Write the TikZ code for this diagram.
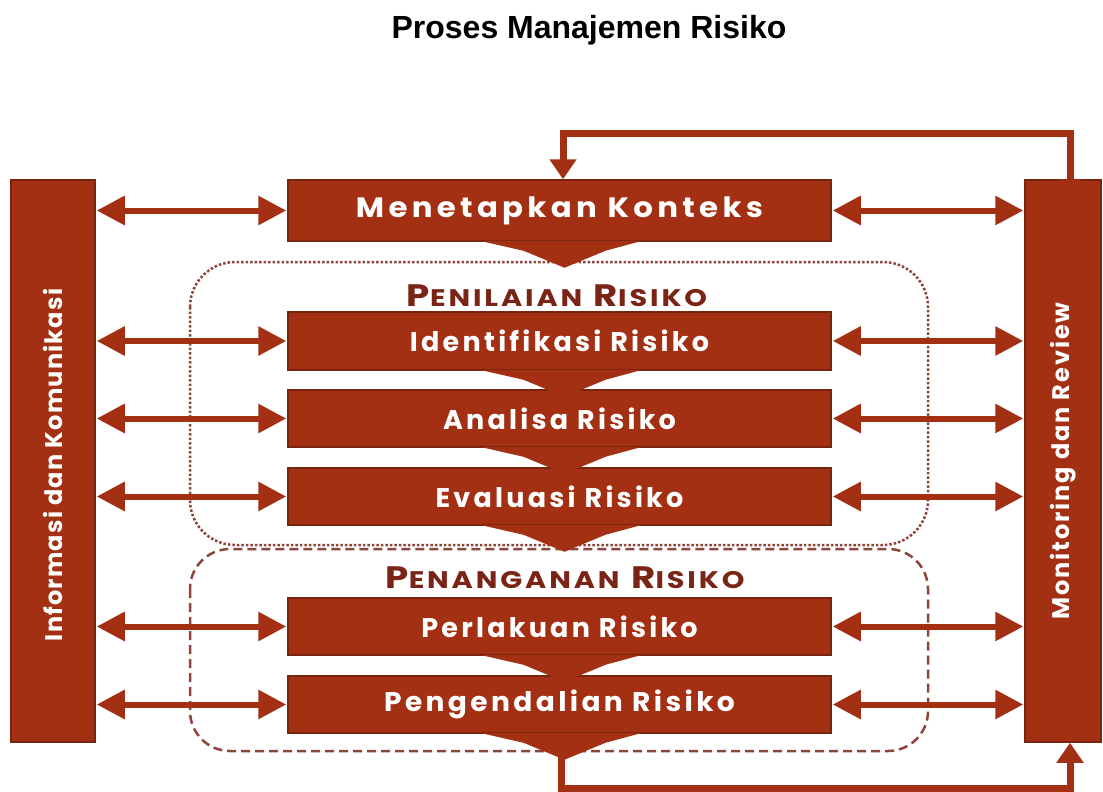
\documentclass[tikz,border=0pt]{standalone}
\usepackage{fontspec}
\usepackage{graphicx}
\setmainfont{Liberation Sans}
\newfontfamily\gothic[LetterSpace=12]{Poppins}
\newfontfamily\gothicw[LetterSpace=14]{Poppins}
\newfontfamily\gothicv[LetterSpace=8]{Poppins}
\newfontfamily\gothicvl[LetterSpace=5]{Poppins}
\newfontfamily\gothicl[LetterSpace=10]{Poppins}
\usetikzlibrary{arrows.meta,calc}
\definecolor{rust}{RGB}{163,48,18}
\definecolor{rustdark}{RGB}{120,36,14}
\definecolor{labelred}{RGB}{122,36,22}
\tikzset{
  barbox/.style={draw=rustdark,fill=rust,line width=1.5pt,inner sep=0pt},
  stepbox/.style={draw=rustdark,fill=rust,line width=1.5pt,minimum width=543pt,inner sep=0pt,
     text=white,font=\gothic\bfseries\fontsize{27}{27}\selectfont},
  bartext/.style={rotate=90,text=white,font=\gothicv\bfseries\fontsize{24}{24}\selectfont},
  dblarrow/.style={draw=rust,line width=6pt,{Triangle[length=28pt,width=28pt]}-{Triangle[length=28pt,width=28pt]},shorten <=1pt,shorten >=1pt},
  feed/.style={draw=rust,line width=7pt},
  grouplabel/.style={text=labelred,font=\gothicl\bfseries\fontsize{31}{31}\selectfont}
}
\newcommand{\smc}[1]{{\fontsize{24}{24}\selectfont #1}}
\begin{document}
\begin{tikzpicture}[x=1pt,y=-1pt]
\useasboundingbox (0,0) rectangle (1103,792);
\fill[white] (0,0) rectangle (1103,792);
\node[font=\bfseries\fontsize{32}{32}\selectfont] (title) at (589,30) {Proses Manajemen Risiko};

% group frames
\draw[labelred!85,line width=2.5pt,dotted,rounded corners=45pt] (190,262) rectangle (928,545);
\draw[labelred!85,line width=2.5pt,dashed,dash pattern=on 9pt off 5pt,rounded corners=40pt] (190,549) rectangle (928,751);

% side bars
\node[barbox,minimum width=84pt,minimum height=562pt] (lbar) at (53,461) {};
\node[bartext,font=\gothicvl\bfseries\fontsize{24}{24}\selectfont] (ltext) at ($(lbar.center)+(0,4)$) {Informasi dan Komunikasi};
\node[barbox,minimum width=76pt,minimum height=562pt] (rbar) at (1063,461) {};
\node[bartext] (rtext) at (rbar.center) {Monitoring dan Review};

% feedback loop corners
\coordinate (topR) at (1070,133);
\coordinate (topL) at (563,133);
\coordinate (botL) at (561,788);
\coordinate (botR) at (1070,788);

% step boxes
\node[stepbox,minimum height=61pt,font=\gothicw\bfseries\fontsize{28}{28}\selectfont] (ctx) at (559.5,210.5) {\scalebox{1.1}[1]{Menetapkan Konteks}};
\node[stepbox,minimum height=58pt] (idf) at (559.5,341) {Identifikasi Risiko};
\node[stepbox,minimum height=57pt] (ana) at (559.5,418.5) {Analisa Risiko};
\node[stepbox,minimum height=57pt] (eva) at (559.5,496.5) {Evaluasi Risiko};
\node[stepbox,minimum height=57pt] (per) at (559.5,626.5) {Perlakuan Risiko};
\node[stepbox,minimum height=57pt] (pen) at (559.5,704.5) {\scalebox{1.04}[1]{Pengendalian Risiko}};

% chevrons
\foreach \b in {ctx,idf,ana,eva,per,pen}{
  \fill[rust] ($(\b.south)+(-80,-1)$) -- ($(\b.south)+(83,-1)$) -- ($(\b.south)+(46,9)$) -- ($(\b.south)+(5,26)$) -- ($(\b.south)+(-36,9)$) -- cycle;
}

% feedback arrows
\draw[feed,-{Triangle[length=20pt,width=26pt]}] (rbar.north -| topR) -- (topR) -- (topL) -- (ctx.north -| topL);
\draw[feed,-{Triangle[length=20pt,width=26pt]}] (pen.south -| botL) -- (botL) -- (botR) -- (rbar.south -| botR);
\fill[rust] ($(rbar.north -| topR)+(-12,0)$) -- ($(rbar.north -| topR)+(12,0)$) -- ($(rbar.north -| topR)+(0,8)$) -- cycle;

% group labels
\node[grouplabel] (lab1) at (557,296) {\scalebox{1.2}[1]{P\smc{ENILAIAN} R\smc{ISIKO}}};
\node[grouplabel] (lab2) at (565,578) {\scalebox{1.2}[1]{P\smc{ENANGANAN} R\smc{ISIKO}}};

% double arrows
\foreach \b in {ctx,idf,ana,eva,per,pen}{
  \draw[dblarrow] (lbar.east |- \b.west) -- (\b.west);
  \draw[dblarrow] (\b.east) -- (rbar.west |- \b.east);
}
\end{tikzpicture}
\end{document}
